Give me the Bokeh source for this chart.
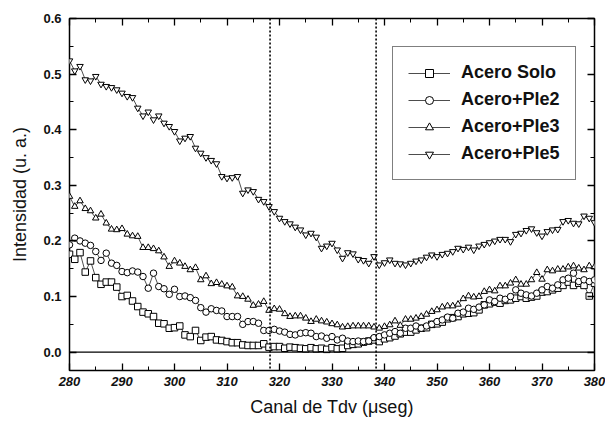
from bokeh.plotting import figure
from bokeh.models import (LinearAxis, Range1d, Span, Legend, LegendItem,
                          FixedTicker, NumeralTickFormatter)
from bokeh.embed import file_html
from bokeh.resources import INLINE

canal = list(range(280, 381))

acero_solo = [
    0.176, 0.167, 0.179, 0.144, 0.164, 0.134, 0.122, 0.126, 0.126, 0.117,
    0.100, 0.102, 0.092, 0.082, 0.072, 0.069, 0.064, 0.052, 0.051, 0.043,
    0.044, 0.047, 0.031, 0.028, 0.039, 0.021, 0.027, 0.028, 0.022, 0.021,
    0.019, 0.017, 0.017, 0.013, 0.012, 0.012, 0.012, 0.015, 0.009, 0.010,
    0.010, 0.007, 0.009, 0.008, 0.007, 0.006, 0.008, 0.006, 0.007, 0.005,
    0.008, 0.006, 0.007, 0.012, 0.014, 0.015, 0.018, 0.020, 0.022, 0.019,
    0.024, 0.026, 0.029, 0.033, 0.036, 0.036, 0.040, 0.043, 0.044, 0.050,
    0.051, 0.054, 0.060, 0.062, 0.064, 0.069, 0.070, 0.071, 0.076, 0.085,
    0.087, 0.090, 0.088, 0.093, 0.094, 0.097, 0.100, 0.097, 0.099, 0.101,
    0.108, 0.109, 0.112, 0.115, 0.120, 0.126, 0.120, 0.124, 0.120, 0.101, 0.124]

acero_pie2 = [
    0.193, 0.205, 0.200, 0.196, 0.192, 0.181, 0.165, 0.178, 0.160, 0.156,
    0.145, 0.143, 0.146, 0.144, 0.136, 0.115, 0.142, 0.118, 0.114, 0.104,
    0.113, 0.100, 0.101, 0.098, 0.093, 0.080, 0.072, 0.078, 0.075, 0.074,
    0.064, 0.064, 0.064, 0.050, 0.055, 0.055, 0.052, 0.039, 0.039, 0.041,
    0.038, 0.036, 0.032, 0.031, 0.034, 0.035, 0.034, 0.028, 0.029, 0.025,
    0.028, 0.022, 0.025, 0.020, 0.019, 0.020, 0.019, 0.020, 0.026, 0.028,
    0.031, 0.034, 0.037, 0.034, 0.043, 0.043, 0.047, 0.043, 0.047, 0.050,
    0.055, 0.058, 0.063, 0.061, 0.070, 0.072, 0.079, 0.077, 0.081, 0.085,
    0.094, 0.091, 0.097, 0.095, 0.100, 0.112, 0.106, 0.103, 0.101, 0.106,
    0.112, 0.118, 0.115, 0.121, 0.130, 0.133, 0.142, 0.127, 0.130, 0.127, 0.130]

acero_pie3 = [
    0.280, 0.262, 0.272, 0.258, 0.254, 0.241, 0.248, 0.232, 0.221, 0.220,
    0.222, 0.212, 0.209, 0.208, 0.188, 0.188, 0.186, 0.182, 0.171, 0.154,
    0.164, 0.160, 0.154, 0.148, 0.152, 0.130, 0.137, 0.123, 0.125, 0.122,
    0.119, 0.117, 0.101, 0.100, 0.095, 0.084, 0.086, 0.091, 0.075, 0.078,
    0.077, 0.069, 0.064, 0.065, 0.065, 0.061, 0.055, 0.059, 0.056, 0.054,
    0.051, 0.049, 0.045, 0.046, 0.047, 0.047, 0.047, 0.047, 0.045, 0.043,
    0.046, 0.049, 0.056, 0.048, 0.059, 0.059, 0.061, 0.064, 0.068, 0.073,
    0.076, 0.081, 0.083, 0.083, 0.086, 0.096, 0.101, 0.099, 0.100, 0.109,
    0.112, 0.110, 0.119, 0.119, 0.124, 0.130, 0.122, 0.122, 0.130, 0.143,
    0.131, 0.148, 0.146, 0.149, 0.149, 0.153, 0.155, 0.151, 0.148, 0.155, 0.153]

acero_pie5 = [
    0.524, 0.506, 0.514, 0.490, 0.488, 0.496, 0.482, 0.478, 0.476, 0.472,
    0.466, 0.460, 0.458, 0.439, 0.425, 0.432, 0.418, 0.425, 0.412, 0.406,
    0.397, 0.380, 0.385, 0.388, 0.367, 0.358, 0.350, 0.345, 0.339, 0.316,
    0.313, 0.314, 0.316, 0.286, 0.292, 0.289, 0.275, 0.271, 0.262, 0.253,
    0.241, 0.235, 0.231, 0.225, 0.220, 0.211, 0.214, 0.207, 0.187, 0.191,
    0.196, 0.184, 0.169, 0.179, 0.177, 0.167, 0.165, 0.160, 0.172, 0.157,
    0.161, 0.166, 0.160, 0.159, 0.157, 0.160, 0.164, 0.166, 0.171, 0.175,
    0.172, 0.176, 0.178, 0.181, 0.187, 0.185, 0.189, 0.184, 0.191, 0.194,
    0.197, 0.200, 0.203, 0.203, 0.199, 0.212, 0.214, 0.219, 0.222, 0.215,
    0.209, 0.217, 0.220, 0.221, 0.235, 0.237, 0.232, 0.231, 0.245, 0.241, 0.233]

series_labels = ["Acero Solo", "Acero+Ple2", "Acero+Ple3", "Acero+Ple5"]
series_markers = ["square", "circle", "triangle", "inverted_triangle"]
series_values = [acero_solo, acero_pie2, acero_pie3, acero_pie5]

vertical_marks = [318.2, 338.4]
x_ticks = [280, 290, 300, 310, 320, 330, 340, 350, 360, 370, 380]
x_minor = [285, 295, 305, 315, 325, 335, 345, 355, 365, 375]
y_ticks = [0.0, 0.1, 0.2, 0.3, 0.4, 0.5, 0.6]
y_minor = [-0.05, 0.05, 0.15, 0.25, 0.35, 0.45, 0.55]

FONT = "Liberation Sans"

p = figure(width=605, height=422, output_backend="svg", toolbar_location=None,
           x_range=Range1d(280, 380), y_range=Range1d(-0.033, 0.6),
           min_border_left=69, min_border_right=11, min_border_top=18,
           min_border_bottom=52, x_axis_type=None, y_axis_type=None)
p.xgrid.visible = False
p.ygrid.visible = False
p.outline_line_color = "black"
p.outline_line_width = 1.5
p.background_fill_color = "white"
p.border_fill_color = "white"


def style_axis(ax, show_labels):
    ax.axis_line_color = None
    ax.major_tick_in = 7
    ax.major_tick_out = 0
    ax.minor_tick_in = 4
    ax.minor_tick_out = 0
    ax.major_tick_line_width = 1.3
    ax.minor_tick_line_width = 1.0
    ax.major_tick_line_color = "black"
    ax.minor_tick_line_color = "black"
    ax.major_label_text_color = "#111111"
    if not show_labels:
        ax.major_label_text_color = None
        ax.major_label_text_font_size = "1px"
        ax.major_label_standoff = 0


xb = LinearAxis(ticker=FixedTicker(ticks=x_ticks, minor_ticks=x_minor))
style_axis(xb, True)
xb.axis_label = "Canal de Tdv (\u03bcseg)"
xb.axis_label_text_font = FONT
xb.axis_label_text_font_size = "18px"
xb.axis_label_text_font_style = "normal"
xb.axis_label_text_color = "#111111"
xb.axis_label_standoff = 8
xb.major_label_text_font = FONT
xb.major_label_text_font_size = "13px"
xb.major_label_text_font_style = "bold italic"
xb.major_label_standoff = 6
p.add_layout(xb, "below")

yl = LinearAxis(ticker=FixedTicker(ticks=y_ticks, minor_ticks=y_minor),
                formatter=NumeralTickFormatter(format="0.0"))
style_axis(yl, True)
yl.axis_label = "Intensidad (u. a.)"
yl.axis_label_text_font = FONT
yl.axis_label_text_font_size = "18px"
yl.axis_label_text_font_style = "normal"
yl.axis_label_text_color = "#111111"
yl.axis_label_standoff = 10
yl.major_label_text_font = FONT
yl.major_label_text_font_size = "13px"
yl.major_label_text_font_style = "bold"
yl.major_label_standoff = 8
p.add_layout(yl, "left")

xt = LinearAxis(ticker=FixedTicker(ticks=x_ticks, minor_ticks=x_minor))
style_axis(xt, False)
p.add_layout(xt, "above")

yr = LinearAxis(ticker=FixedTicker(ticks=y_ticks, minor_ticks=y_minor))
style_axis(yr, False)
p.add_layout(yr, "right")

p.add_layout(Span(location=0.0, dimension="width", line_color="black",
                  line_width=1.3))
for vx in vertical_marks:
    p.add_layout(Span(location=vx, dimension="height", line_color="black",
                      line_width=1.6, line_dash="2 2"))

items = []
for lab, mk, vals in zip(series_labels, series_markers, series_values):
    ln = p.line(canal, vals, line_color="black", line_width=0.7)
    sc = p.scatter(canal, vals, marker=mk, size=6.5, fill_color="white",
                   line_color="black", line_width=1.0)
    items.append(LegendItem(label=lab, renderers=[ln, sc]))

legend = Legend(items=items, location=(323, 190))
legend.border_line_color = "black"
legend.border_line_width = 1.2
legend.background_fill_color = "white"
legend.label_text_font = FONT
legend.label_text_font_size = "18px"
legend.label_text_font_style = "bold"
legend.label_text_color = "#111111"
legend.glyph_width = 42
legend.glyph_height = 20
legend.label_height = 20
legend.spacing = 6
legend.padding = 15
legend.margin = 0
legend.label_standoff = 11
p.add_layout(legend, "center")

open("out.html", "w").write(file_html(p, INLINE))
